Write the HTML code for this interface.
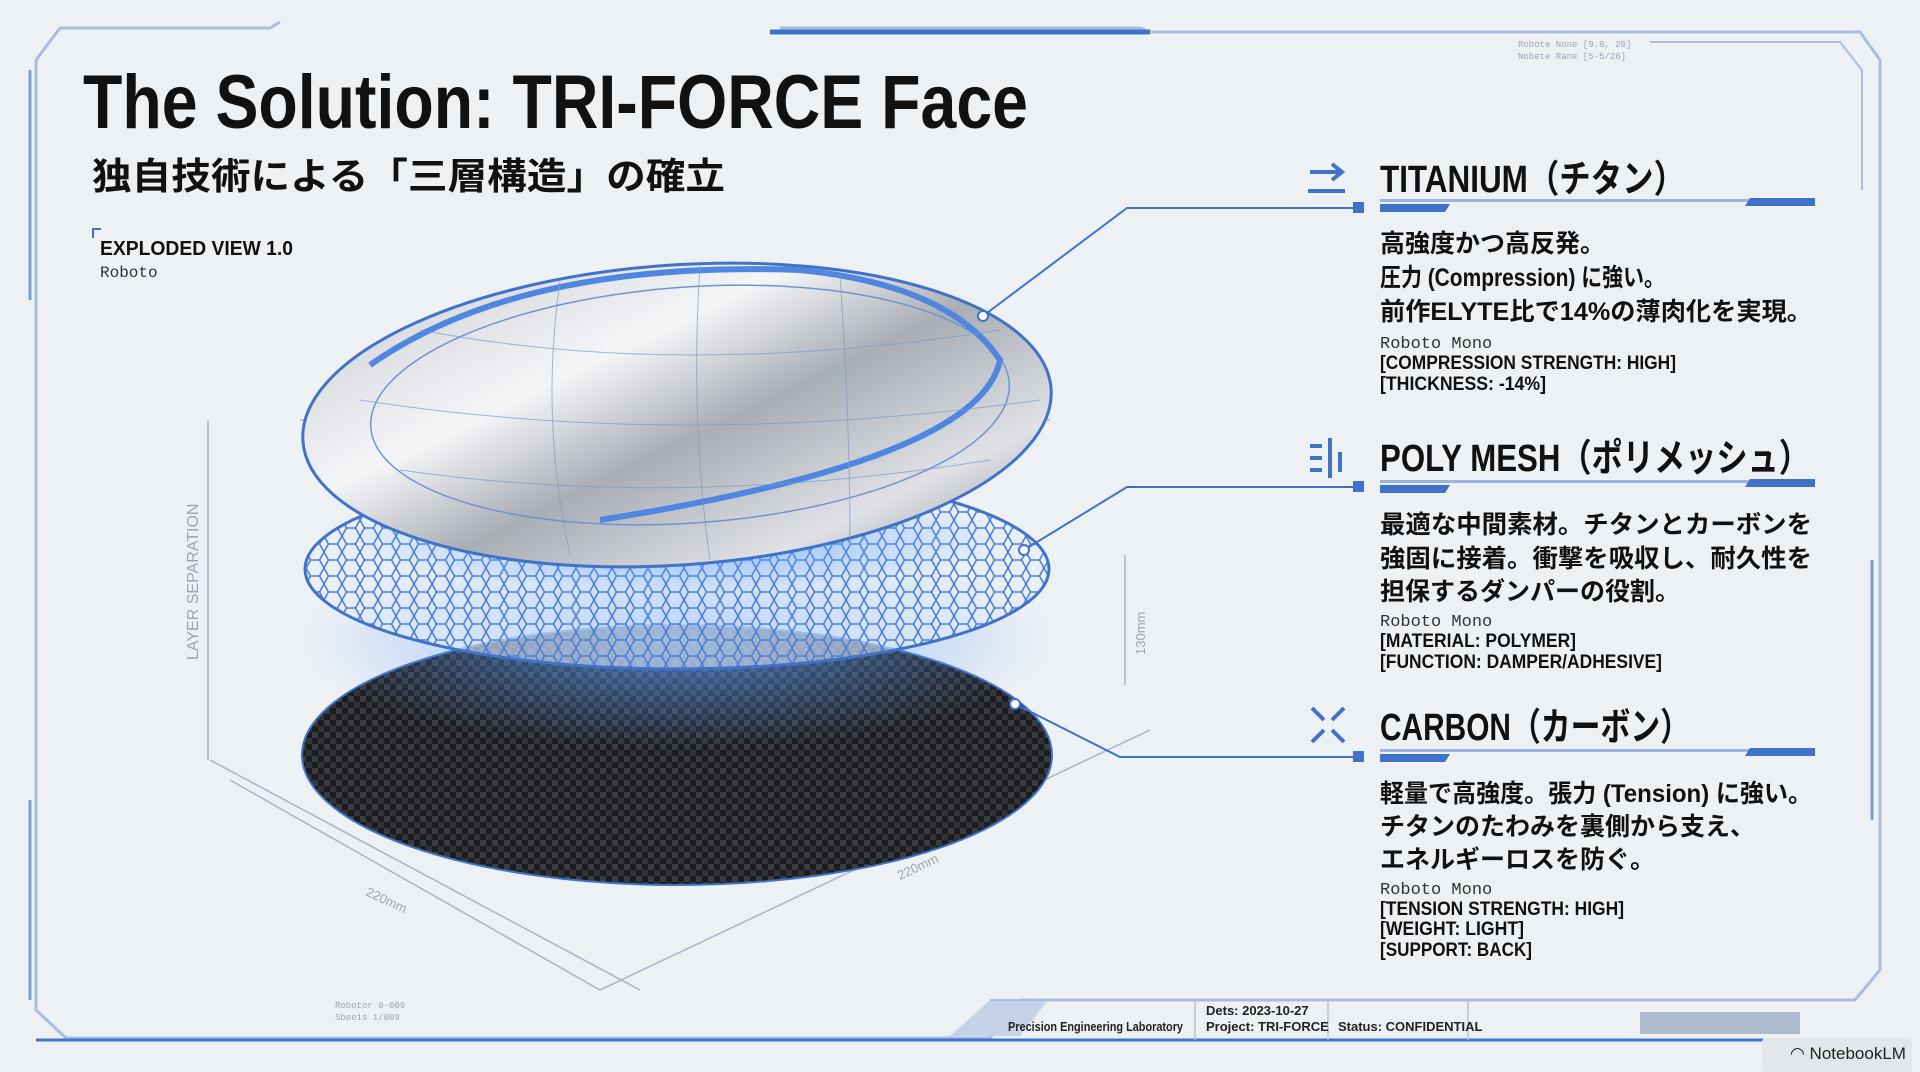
<!DOCTYPE html>
<html><head><meta charset="utf-8"><style>
html,body{margin:0;padding:0;background:#eef1f4;}
svg{display:block}
.j{font-family:"Liberation Sans","Noto Sans CJK JP",sans-serif;font-weight:bold;fill:#111}
.m{font-family:"Liberation Mono",monospace;fill:#333}
</style></head><body>
<svg width="1920" height="1072" viewBox="0 0 1920 1072" xmlns="http://www.w3.org/2000/svg">
<defs>
<linearGradient id="ti" x1="0" y1="0" x2="1" y2="1">
<stop offset="0" stop-color="#c9ccd2"/><stop offset="0.35" stop-color="#f4f5f7"/><stop offset="0.55" stop-color="#a9adb4"/><stop offset="0.8" stop-color="#dfe1e5"/><stop offset="1" stop-color="#8f949c"/></linearGradient>
<pattern id="hex" width="18" height="16" patternUnits="userSpaceOnUse">
<path d="M4.5 0 L13.5 0 L18 8 L13.5 16 L4.5 16 L0 8 Z" fill="none" stroke="#4d7fd6" stroke-width="1.6"/></pattern>
<pattern id="cf" width="12" height="12" patternUnits="userSpaceOnUse">
<rect width="12" height="12" fill="#1b1c1f"/><rect width="6" height="6" fill="#3a3c40"/><rect x="6" y="6" width="6" height="6" fill="#323438"/></pattern>
<radialGradient id="glow"><stop offset="0" stop-color="#5fa0ff" stop-opacity="0.7"/><stop offset="1" stop-color="#5fa0ff" stop-opacity="0"/></radialGradient>
</defs>
<rect width="1920" height="1072" fill="#eef1f4"/>
<!-- frame -->
<path d="M60 28 L270 28 L280 22 M36 60 L60 28 M36 60 L36 1010 L66 1038 L990 1038 L1020 1000 L1855 1000 L1880 970 L1880 60 L1860 32 L1150 32 L1140 28 L780 28" fill="none" stroke="#a9bedf" stroke-width="3"/>
<path d="M770 32 L1150 32" stroke="#3f72c8" stroke-width="5"/>
<path d="M30 70 L30 300 M30 800 L30 1000 M1872 560 L1872 820" stroke="#7d9dd2" stroke-width="3"/>
<!-- title -->
<text x="83" y="128" class="j" font-size="76" textLength="945" lengthAdjust="spacingAndGlyphs">The Solution: TRI-FORCE Face</text>
<text x="92" y="189" class="j" font-size="37" textLength="633" lengthAdjust="spacingAndGlyphs">独自技術による「三層構造」の確立</text>
<path d="M93 238 L93 229 L101 229" stroke="#3f72c8" stroke-width="2" fill="none"/>
<text x="100" y="255" class="j" font-size="20" textLength="193" lengthAdjust="spacingAndGlyphs">EXPLODED VIEW 1.0</text>
<text x="100" y="277" class="m" font-size="16">Roboto</text>
<!-- dimension lines -->
<g stroke="#a8b4c6" stroke-width="1.5" fill="none">
<path d="M208 420 L208 760"/><path d="M1125 555 L1125 685"/>
<path d="M230 780 L600 990 L1150 730"/><path d="M300 420 L1050 420 M210 760 L640 990"/>
</g>
<text x="0" y="0" transform="translate(198,660) rotate(-90)" font-family="Liberation Sans" font-size="16" fill="#9aa6b6">LAYER SEPARATION</text>
<text x="0" y="0" transform="translate(1145,655) rotate(-90)" font-family="Liberation Sans" font-size="13" fill="#9aa6b6">130mm</text>
<text x="0" y="0" transform="translate(365,895) rotate(25)" font-family="Liberation Sans" font-size="13" fill="#9aa6b6">220mm</text>
<text x="0" y="0" transform="translate(900,880) rotate(-25)" font-family="Liberation Sans" font-size="13" fill="#9aa6b6">220mm</text>
<!-- carbon -->
<ellipse cx="677" cy="755" rx="375" ry="130" fill="url(#cf)" stroke="#3f72c8" stroke-width="2"/>
<ellipse cx="677" cy="640" rx="380" ry="110" fill="url(#glow)"/>
<!-- mesh -->
<ellipse cx="677" cy="569" rx="372" ry="100" fill="#e4ecf8" fill-opacity="0.55"/>
<ellipse cx="677" cy="569" rx="372" ry="100" fill="url(#hex)" stroke="#3f72c8" stroke-width="3"/>
<ellipse cx="677" cy="540" rx="330" ry="50" fill="url(#glow)"/>
<!-- titanium -->
<ellipse cx="677" cy="415" rx="375" ry="150" transform="rotate(-4 677 415)" fill="url(#ti)" stroke="#3f72c8" stroke-width="3"/>
<ellipse cx="690" cy="405" rx="320" ry="118" transform="rotate(-4 690 405)" fill="none" stroke="#6e94d4" stroke-width="1.5"/>
<path d="M370 365 Q520 260 800 270 Q950 285 1000 360 Q980 460 600 520" fill="none" stroke="#4f86e0" stroke-width="6"/>
<g stroke="#7a9ad0" stroke-width="1" fill="none" opacity="0.7">
<path d="M420 330 Q680 380 1000 330"/><path d="M360 400 Q680 450 1040 400"/><path d="M400 470 Q680 510 990 460"/>
<path d="M560 280 Q540 420 570 555"/><path d="M700 265 Q690 420 710 560"/><path d="M840 275 Q850 420 850 545"/>
</g>
<!-- connectors -->
<g stroke="#3f72c8" stroke-width="2" fill="none">
<path d="M983 316 L1127 208 L1359 208"/><path d="M1024 550 L1127 487 L1359 487"/><path d="M1015 704 L1120 757 L1359 757"/>
</g>
<g fill="#3f72c8"><rect x="1353" y="202" width="11" height="11"/><rect x="1353" y="481" width="11" height="11"/><rect x="1353" y="751" width="11" height="11"/></g>
<g fill="#fff" stroke="#3f72c8" stroke-width="2"><circle cx="983" cy="316" r="5"/><circle cx="1024" cy="550" r="5"/><circle cx="1015" cy="704" r="5"/></g>
<!-- icons -->
<g stroke="#3f72c8" stroke-width="4" fill="none">
<path d="M1310 172 L1340 172 M1332 164 L1342 172 L1332 180 M1308 191 L1345 191"/>
<path d="M1310 446 L1322 446 M1310 458 L1322 458 M1310 470 L1322 470 M1330 438 L1330 478 M1340 452 L1340 472"/>
<path d="M1312 708 L1324 720 M1344 708 L1332 720 M1312 742 L1324 730 M1344 742 L1332 730"/>
</g>
<!-- headings -->
<g>
<text x="1380" y="192" class="j" font-size="38" textLength="305" lengthAdjust="spacingAndGlyphs">TITANIUM（チタン）</text>
<text x="1380" y="471" class="j" font-size="38" textLength="430" lengthAdjust="spacingAndGlyphs">POLY MESH（ポリメッシュ）</text>
<text x="1380" y="740" class="j" font-size="38" textLength="310" lengthAdjust="spacingAndGlyphs">CARBON（カーボン）</text>
</g>
<g fill="#3f72c8">
<path d="M1380 202 L1815 202 L1815 199 L1380 199 Z" fill="#9bb4de"/>
<path d="M1380 204 L1450 204 L1445 212 L1380 212 Z M1750 198 L1815 198 L1815 206 L1745 206 Z"/>
<path d="M1380 483 L1815 483 L1815 480 L1380 480 Z" fill="#9bb4de"/>
<path d="M1380 485 L1450 485 L1445 493 L1380 493 Z M1750 479 L1815 479 L1815 487 L1745 487 Z"/>
<path d="M1380 752 L1815 752 L1815 749 L1380 749 Z" fill="#9bb4de"/>
<path d="M1380 754 L1450 754 L1445 762 L1380 762 Z M1750 748 L1815 748 L1815 756 L1745 756 Z"/>
</g>
<!-- bodies -->
<g class="j" font-size="25">
<text x="1380" y="252">高強度かつ高反発。</text>
<text x="1380" y="286" textLength="285" lengthAdjust="spacingAndGlyphs">圧力 (Compression) に強い。</text>
<text x="1380" y="320" textLength="432" lengthAdjust="spacingAndGlyphs">前作ELYTE比で14%の薄肉化を実現。</text>
<text x="1380" y="533" textLength="432" lengthAdjust="spacingAndGlyphs">最適な中間素材。チタンとカーボンを</text>
<text x="1380" y="567" textLength="432" lengthAdjust="spacingAndGlyphs">強固に接着。衝撃を吸収し、耐久性を</text>
<text x="1380" y="600">担保するダンパーの役割。</text>
<text x="1380" y="802" textLength="432" lengthAdjust="spacingAndGlyphs">軽量で高強度。張力 (Tension) に強い。</text>
<text x="1380" y="835">チタンのたわみを裏側から支え、</text>
<text x="1380" y="868">エネルギーロスを防ぐ。</text>
</g>
<g class="m" font-size="17">
<text x="1380" y="348">Roboto Mono</text><text x="1380" y="626">Roboto Mono</text><text x="1380" y="894">Roboto Mono</text>
</g>
<g class="j" font-size="19">
<text x="1380" y="369" textLength="296" lengthAdjust="spacingAndGlyphs">[COMPRESSION STRENGTH: HIGH]</text>
<text x="1380" y="390" textLength="166" lengthAdjust="spacingAndGlyphs">[THICKNESS: -14%]</text>
<text x="1380" y="647" textLength="196" lengthAdjust="spacingAndGlyphs">[MATERIAL: POLYMER]</text>
<text x="1380" y="668" textLength="282" lengthAdjust="spacingAndGlyphs">[FUNCTION: DAMPER/ADHESIVE]</text>
<text x="1380" y="915" textLength="244" lengthAdjust="spacingAndGlyphs">[TENSION STRENGTH: HIGH]</text>
<text x="1380" y="935" textLength="144" lengthAdjust="spacingAndGlyphs">[WEIGHT: LIGHT]</text>
<text x="1380" y="956" textLength="152" lengthAdjust="spacingAndGlyphs">[SUPPORT: BACK]</text>
</g>
<!-- footer -->
<path d="M950 1036 L990 1000 L1048 1000 L1020 1036 Z" fill="#c5d3ea"/>
<path d="M990 1000 L1800 1000" stroke="#a9bedf" stroke-width="2"/>
<path d="M36 1040 L1880 1040" stroke="#3f72c8" stroke-width="3"/>
<g stroke="#b5c2d6" stroke-width="1.5"><path d="M1195 1000 L1195 1040 M1328 1000 L1328 1040 M1468 1000 L1468 1040"/></g>
<g font-family="Liberation Sans" font-weight="bold" font-size="13" fill="#222">
<text x="1008" y="1031" textLength="175" lengthAdjust="spacingAndGlyphs">Precision Engineering Laboratory</text>
<text x="1206" y="1015">Dets: 2023-10-27</text>
<text x="1206" y="1031">Project: TRI-FORCE</text>
<text x="1338" y="1031">Status: CONFIDENTIAL</text>
</g>
<g fill="#b0bccd"><rect x="1640" y="1012" width="160" height="22"/></g>
<rect x="1762" y="1038" width="150" height="34" rx="4" fill="#e3e6ea"/>
<text x="1790" y="1059" font-family="Liberation Sans" font-size="17" fill="#222">◠ NotebookLM</text>
<g font-family="Liberation Mono" font-size="9" fill="#9aa6b6">
<text x="1518" y="47">Robote None [9.8, 20]</text><text x="1518" y="59">Nobete Rane [5-5/26]</text>
<text x="335" y="1008">Robotor 0-009</text><text x="335" y="1020">Sbeeis 1/009</text>
</g>
<path d="M1650 42 L1840 42 L1862 70 L1862 190" stroke="#a9bedf" stroke-width="2" fill="none"/>
</svg>
</body></html>
